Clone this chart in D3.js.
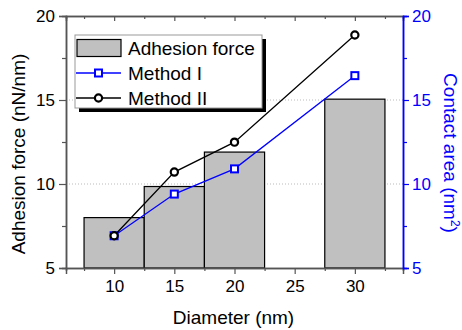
<!DOCTYPE html>
<html>
<head>
<meta charset="utf-8">
<script src="https://cdn.jsdelivr.net/npm/d3@7"></script>
<style>
  body { margin: 0; background: #fff; }
  svg { font-family: Arial, "Liberation Sans", sans-serif; }
</style>
</head>
<body>
<svg id="chart"></svg>
<script>
const diameters = [10, 15, 20, 30];
const adhesionForce = [8.0, 9.85, 11.9, 15.05];
const methodOne = [6.92, 9.4, 10.9, 16.45];
const methodTwo = [6.92, 10.71, 12.49, 18.87];
const xTicks = [10, 15, 20, 25, 30];
const xMinorTicks = [7.5, 12.5, 17.5, 22.5, 27.5, 32.5];
const yTicks = [5, 10, 15, 20];
const yMinorTicks = [7.5, 12.5, 17.5];
const gridValues = [10, 15];
const legendLabels = ['Adhesion force', 'Method I', 'Method II'];

class AdhesionChart {

  constructor(selector) {
    this.width = 462;
    this.height = 330;
    this.left = 66;
    this.right = 403;
    this.top = 16;
    this.bottom = 268;
    this.svg = d3.select(selector).attr('width', this.width).attr('height', this.height);
    this.x = d3.scaleLinear().domain([6, 34]).range([this.left, this.right]);
    this.y = d3.scaleLinear().domain([5, 20]).range([this.bottom, this.top]);
    this.y2 = d3.scaleLinear().domain([5, 20]).range([this.bottom, this.top]);
  }

  render() {
    this.drawGrid();
    this.drawBars();
    this.drawAxes();
    this.drawLine(methodOne, '#0000ff', 'square');
    this.drawLine(methodTwo, '#000', 'circle');
    this.drawLegend();
    this.drawTitles();
  }

  drawGrid() {
    this.svg.append('g').selectAll('line')
      .data(gridValues)
      .enter().append('line')
      .attr('x1', this.left).attr('x2', this.right)
      .attr('y1', d => this.y(d)).attr('y2', d => this.y(d))
      .attr('stroke', '#bbb').attr('stroke-width', 1)
      .attr('stroke-dasharray', '1,2');
  }

  drawBars() {
    let barWidth = 5;
    this.svg.append('g').selectAll('rect')
      .data(d3.zip(diameters, adhesionForce))
      .enter().append('rect')
      .attr('x', d => this.x(d[0] - barWidth / 2))
      .attr('width', this.x(barWidth) - this.x(0))
      .attr('y', d => this.y(d[1]))
      .attr('height', d => this.bottom - this.y(d[1]))
      .attr('fill', '#c0c0c0')
      .attr('stroke', '#000')
      .attr('stroke-width', 1.2);
  }

  styleAxis(g, color, fontSize) {
    g.select('.domain').attr('stroke', color).attr('stroke-width', 1.5);
    g.selectAll('.tick line').attr('stroke', color).attr('stroke-width', 1.2);
    g.selectAll('.tick text').attr('fill', color).attr('font-size', fontSize)
      .attr('font-family', 'Arial, "Liberation Sans", sans-serif');
  }

  drawAxes() {
    let grey = '#555';
    let blue = '#0000ff';
    let noLabel = () => '';

    // minor ticks first, major on top
    let bottomMinor = this.svg.append('g').attr('transform', `translate(0,${this.bottom})`)
      .call(d3.axisBottom(this.x).tickValues(xMinorTicks).tickSize(3).tickFormat(noLabel));
    this.styleAxis(bottomMinor, grey, 17);
    let bottom = this.svg.append('g').attr('transform', `translate(0,${this.bottom})`)
      .call(d3.axisBottom(this.x).tickValues(xTicks).tickSize(6).tickPadding(6));
    this.styleAxis(bottom, grey, 17);
    bottom.selectAll('.tick text').attr('fill', '#000');

    let topMinor = this.svg.append('g').attr('transform', `translate(0,${this.top})`)
      .call(d3.axisTop(this.x).tickValues(xMinorTicks).tickSize(-3).tickFormat(noLabel));
    this.styleAxis(topMinor, grey, 17);
    let top = this.svg.append('g').attr('transform', `translate(0,${this.top})`)
      .call(d3.axisTop(this.x).tickValues(xTicks).tickSize(-5).tickFormat(noLabel));
    this.styleAxis(top, grey, 17);

    let leftMinor = this.svg.append('g').attr('transform', `translate(${this.left},0)`)
      .call(d3.axisLeft(this.y).tickValues(yMinorTicks).tickSize(4).tickFormat(noLabel));
    this.styleAxis(leftMinor, grey, 17);
    let left = this.svg.append('g').attr('transform', `translate(${this.left},0)`)
      .call(d3.axisLeft(this.y).tickValues(yTicks).tickSize(7).tickPadding(4));
    this.styleAxis(left, grey, 17);
    left.selectAll('.tick text').attr('fill', '#000');

    let rightMinor = this.svg.append('g').attr('transform', `translate(${this.right},0)`)
      .call(d3.axisRight(this.y2).tickValues(yMinorTicks).tickSize(4).tickFormat(noLabel));
    this.styleAxis(rightMinor, blue, 17);
    let right = this.svg.append('g').attr('transform', `translate(${this.right},0)`)
      .call(d3.axisRight(this.y2).tickValues(yTicks).tickSize(6).tickPadding(3));
    this.styleAxis(right, blue, 17);
  }

  drawLine(values, color, marker) {
    let pts = d3.zip(diameters, values);
    let line = d3.line().x(d => this.x(d[0])).y(d => this.y2(d[1]));
    let g = this.svg.append('g');
    g.append('path').datum(pts)
      .attr('d', line)
      .attr('fill', 'none')
      .attr('stroke', color)
      .attr('stroke-width', 1.3);
    this.drawMarkers(g, pts.map(d => [this.x(d[0]), this.y2(d[1])]), color, marker);
  }

  drawMarkers(g, coords, color, marker) {
    if (marker == 'square') {
      g.selectAll('rect').data(coords).enter().append('rect')
        .attr('x', d => d[0] - 3.5).attr('y', d => d[1] - 3.5)
        .attr('width', 7).attr('height', 7)
        .attr('fill', '#fff').attr('stroke', color).attr('stroke-width', 2);
    } else {
      g.selectAll('circle').data(coords).enter().append('circle')
        .attr('cx', d => d[0]).attr('cy', d => d[1]).attr('r', 3.6)
        .attr('fill', '#fff').attr('stroke', color).attr('stroke-width', 2.2);
    }
  }

  drawLegend() {
    let lx = 75, ly = 35, lw = 187, lh = 73;
    let g = this.svg.append('g');
    g.append('rect').attr('x', lx + 4).attr('y', ly + 4).attr('width', lw).attr('height', lh)
      .attr('fill', '#000');
    g.append('rect').attr('x', lx).attr('y', ly).attr('width', lw).attr('height', lh)
      .attr('fill', '#fff').attr('stroke', '#999').attr('stroke-width', 1);

    let rowY = [48, 73, 98];
    g.append('rect').attr('x', 77).attr('y', rowY[0] - 8.5).attr('width', 44).attr('height', 17)
      .attr('fill', '#c0c0c0').attr('stroke', '#000').attr('stroke-width', 1.2);

    let samples = [[rowY[1], '#0000ff', 'square'], [rowY[2], '#000', 'circle']];
    samples.forEach(s => {
      g.append('line').attr('x1', 76).attr('x2', 121).attr('y1', s[0]).attr('y2', s[0])
        .attr('stroke', s[1]).attr('stroke-width', 1.3);
      this.drawMarkers(g.append('g'), [[98.5, s[0]]], s[1], s[2]);
    });

    g.selectAll('text.legend').data(legendLabels).enter().append('text')
      .attr('class', 'legend')
      .attr('x', 128).attr('y', (d, i) => rowY[i])
      .attr('dy', '0.36em')
      .attr('font-size', 19)
      .attr('fill', '#000')
      .text(d => d);
  }

  drawTitles() {
    this.svg.append('text')
      .attr('x', (this.left + this.right) / 2 - 1).attr('y', 324)
      .attr('text-anchor', 'middle').attr('font-size', 19)
      .text('Diameter (nm)');

    this.svg.append('text')
      .attr('transform', 'translate(25,154) rotate(-90)')
      .attr('text-anchor', 'middle').attr('font-size', 19)
      .text('Adhesion force (nN/nm)');

    let t = this.svg.append('text')
      .attr('transform', 'translate(444,153) rotate(90)')
      .attr('text-anchor', 'middle').attr('font-size', 19)
      .attr('fill', '#0000ff');
    t.append('tspan').text('Contact area (nm');
    t.append('tspan').attr('baseline-shift', 'super').attr('font-size', 12).text('2');
    t.append('tspan').text(')');
  }

}

let chart = new AdhesionChart('#chart');
chart.render();
</script>
</body>
</html>
